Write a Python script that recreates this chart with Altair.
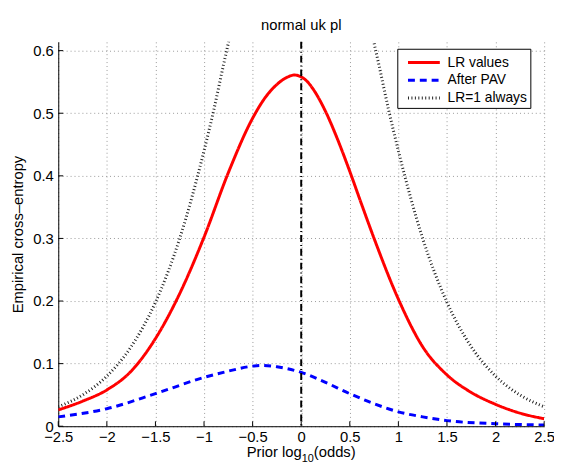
import altair as alt
import pandas as pd

# ---- data ----
series_order = ["LR values", "After PAV", "LR=1 always"]

x_lr = [-2.5, -2.25, -2, -1.75, -1.5, -1.25, -1, -0.75, -0.5, -0.375, -0.25, -0.15, -0.07,
        0, 0.06, 0.125, 0.25, 0.375, 0.5, 0.625, 0.75, 1, 1.25, 1.5, 1.75, 2, 2.25, 2.5]
y_lr = [0.026, 0.040, 0.058, 0.088, 0.140, 0.212, 0.302, 0.405, 0.492, 0.524, 0.546, 0.557, 0.561,
        0.558, 0.551, 0.538, 0.503, 0.458, 0.407, 0.353, 0.300, 0.203, 0.127, 0.082, 0.054, 0.035,
        0.021, 0.012]

x_pav = [-2.5, -2, -1.5, -1, -0.75, -0.5, -0.4, -0.25, 0, 0.25, 0.5, 0.75, 1, 1.25, 1.5, 2, 2.5]
y_pav = [0.015, 0.028, 0.052, 0.078, 0.088, 0.096, 0.097, 0.095, 0.086, 0.070, 0.052, 0.036,
         0.023, 0.015, 0.009, 0.004, 0.002]

x_ref = [-2.5, -2.25, -2, -1.75, -1.5, -1.25, -1, -0.9, -0.8, -0.75, -0.7, 0,
         0.7, 0.75, 0.8, 0.9, 1, 1.25, 1.5, 1.75, 2, 2.25, 2.5]
y_ref = [0.031, 0.050, 0.080, 0.127, 0.198, 0.300, 0.440, 0.505, 0.577, 0.612, 0.648, 1.0,
         0.648, 0.612, 0.577, 0.505, 0.440, 0.300, 0.198, 0.127, 0.080, 0.050, 0.031]

x_ticks = [-2.5, -2, -1.5, -1, -0.5, 0, 0.5, 1, 1.5, 2, 2.5]
y_ticks = [0, 0.1, 0.2, 0.3, 0.4, 0.5, 0.6]
vline_x = [0]

rows = []
for name, xs, ys in [("LR values", x_lr, y_lr), ("After PAV", x_pav, y_pav), ("LR=1 always", x_ref, y_ref)]:
    for a, b in zip(xs, ys):
        rows.append({"x": a, "y": b, "series": name})
df = pd.DataFrame(rows)

W, H = 493, 390
FONT = "Liberation Sans"
FS = 15

xscale = alt.Scale(domain=[-2.5, 2.5], nice=False, zero=False)
yscale = alt.Scale(domain=[0, 0.614], nice=False, zero=False)

xaxis = alt.Axis(values=x_ticks, format="~g", title=None, grid=True,
                 gridColor="#999999", gridDash=[1, 3], gridWidth=1, ticks=False,
                 domainColor="black", labelColor="black", labelFontSize=FS, labelFont=FONT,
                 labelPadding=4, labelFlush=False)
yaxis = alt.Axis(values=y_ticks, format="~g", title="Empirical cross\u2013entropy", grid=True,
                 gridColor="#999999", gridDash=[1, 3], gridWidth=1, ticks=False,
                 domainColor="black", labelColor="black", labelFontSize=FS, labelFont=FONT,
                 labelPadding=5, titleFont=FONT, titleFontSize=FS, titleFontWeight="normal",
                 titleColor="black", titleX=-41, titleY=H / 2, titleAngle=270,
                 titleBaseline="middle", titleAlign="center", labelFlush=False)

leg = alt.Legend(title=None, orient="none", legendX=344, legendY=7, fillColor="white",
                 strokeColor="black", padding=3, symbolType="M-1.7,0H1.7", symbolSize=361,
                 symbolOffset=13, labelFontSize=14, labelFont=FONT, labelColor="black",
                 labelOffset=13, rowPadding=0, cornerRadius=0)

lines = alt.Chart(df).mark_line(clip=True, interpolate="monotone").encode(
    x=alt.X("x:Q", scale=xscale, axis=xaxis),
    y=alt.Y("y:Q", scale=yscale, axis=yaxis),
    color=alt.Color("series:N", sort=series_order,
                    scale=alt.Scale(domain=series_order, range=["#ff0000", "#0000ff", "#222222"]),
                    legend=leg),
    strokeDash=alt.StrokeDash("series:N", sort=series_order,
                              scale=alt.Scale(domain=series_order, range=[[1, 0], [7, 5], [1, 2.5]]),
                              legend=leg),
    strokeWidth=alt.StrokeWidth("series:N", sort=series_order,
                                scale=alt.Scale(domain=series_order, range=[3, 3, 1]),
                                legend=leg),
)

vline = alt.Chart(pd.DataFrame({"x": vline_x})).mark_rule(
    color="black", strokeWidth=2, strokeDash=[7, 3, 1, 3]
).encode(x=alt.X("x:Q", scale=xscale))

xt = alt.Chart(pd.DataFrame({"x": x_ticks})).mark_rule(color="black", strokeWidth=1).encode(
    x=alt.X("x:Q", scale=xscale), y=alt.value(H), y2=alt.value(H - 5))
yt = alt.Chart(pd.DataFrame({"y": y_ticks})).mark_rule(color="black", strokeWidth=1).encode(
    y=alt.Y("y:Q", scale=yscale), x=alt.value(0), x2=alt.value(5))

# x-axis title with a real subscript: "Prior log" + "10" + "(odds)"
w_main = 3.723 * FS
w_sub = 1.112 * 11
w_end = 2.834 * FS
x0 = W / 2 - (w_main + w_sub + w_end) / 2
base_y = H + 31
t1 = alt.Chart(pd.DataFrame({"t": ["Prior log"]})).mark_text(
    align="left", baseline="alphabetic", font=FONT, fontSize=FS, color="black"
).encode(text="t:N", x=alt.value(x0), y=alt.value(base_y))
t2 = alt.Chart(pd.DataFrame({"t": ["10"]})).mark_text(
    align="left", baseline="alphabetic", font=FONT, fontSize=11, color="black"
).encode(text="t:N", x=alt.value(x0 + w_main), y=alt.value(base_y + 5))
t3 = alt.Chart(pd.DataFrame({"t": ["(odds)"]})).mark_text(
    align="left", baseline="alphabetic", font=FONT, fontSize=FS, color="black"
).encode(text="t:N", x=alt.value(x0 + w_main + w_sub), y=alt.value(base_y))

chart = alt.layer(lines, vline, xt, yt, t1, t2, t3).properties(
    width=W, height=H,
    title=alt.Title("normal uk pl", font=FONT, fontSize=FS, fontWeight="normal", color="black",
                    anchor="middle", offset=8),
    autosize=alt.AutoSizeParams(type="none"),
    padding={"left": 51, "top": 31, "right": 10, "bottom": 38},
    background="white",
).configure_view(stroke=None)

chart.save("out.html", embed_options={"renderer": "svg", "actions": False})
